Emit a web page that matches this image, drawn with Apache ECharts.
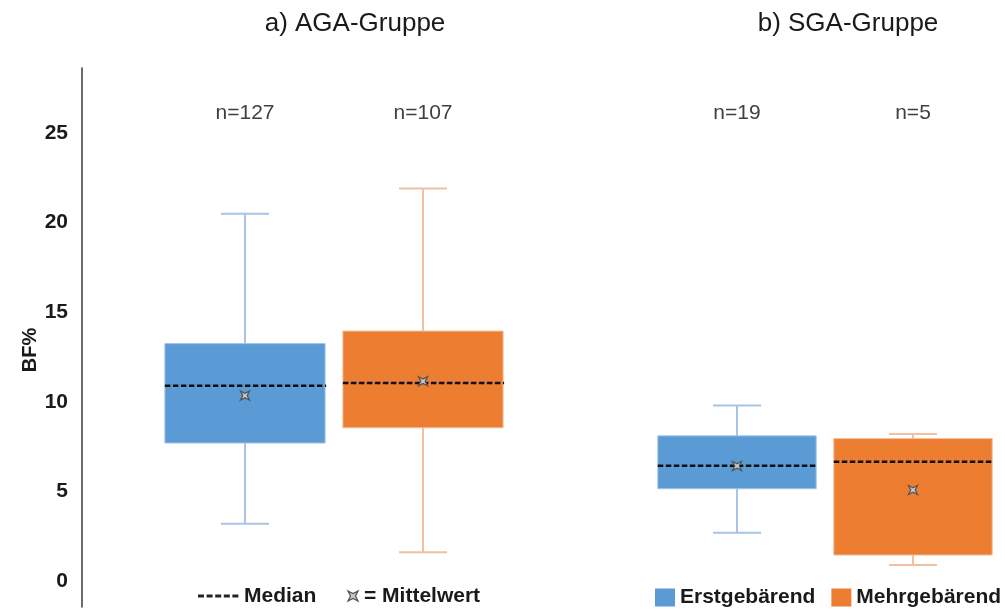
<!DOCTYPE html>
<html>
<head>
<meta charset="utf-8">
<script src="https://cdn.jsdelivr.net/npm/echarts@6/dist/echarts.min.js"></script>
<style>html,body{margin:0;padding:0;background:#fff;}#c{width:1005px;height:609px;}</style>
</head>
<body>
<div id="c"></div>
<script>
// ---- data ----
const groupTitles = ['a) AGA-Gruppe', 'b) SGA-Gruppe'];
const seriesNames = ['Erstgebärend', 'Mehrgebärend'];
const yAxisName = 'BF%';
const yTicks = [0, 5, 10, 15, 20, 25];

const agaMin    = [3.2, 1.6];
const agaQ1     = [7.7, 8.55];
const agaMedian = [10.9, 11.05];
const agaQ3     = [13.25, 13.95];
const agaMax    = [20.5, 21.9];
const agaMean   = [10.35, 11.15];
const agaN      = [127, 107];

const sgaMin    = [2.7, 0.9];
const sgaQ1     = [5.15, 1.45];
const sgaMedian = [6.43, 6.65];
const sgaQ3     = [8.1, 7.95];
const sgaMax    = [9.8, 8.2];
const sgaMean   = [6.42, 5.08];
const sgaN      = [19, 5];

// ---- styles ----
const FONT = '"Liberation Sans", Arial, sans-serif';
const fills = ['#5b9bd5', '#ed7d31'];
const lines = ['#a7c4e4', '#f0c0a0'];
const Y_MIN = -1.45, Y_MAX = 28.63, N_LABEL_Y = 26.1;

// concave-square mean marker, centred on (cx, cy), size s
function meanMarker(cx, cy, s) {
  const h = s / 2, q = s / 4;
  return {
    type: 'polygon',
    shape: { points: [[cx - h, cy - h], [cx, cy - q], [cx + h, cy - h], [cx + q, cy],
                      [cx + h, cy + h], [cx, cy + q], [cx - h, cy + h], [cx - q, cy]] },
    style: { fill: '#c8c8c8', stroke: '#555', lineWidth: 1.3 }
  };
}

function renderBox(params, api) {
  const k = api.value(0);
  const c = v => api.coord([k, v]);
  const band = api.size([1, 0])[0];
  const bw = band * 0.9;
  const capW = 48;
  const pMin = c(api.value(1)), pQ1 = c(api.value(2)), pMed = c(api.value(3));
  const pQ3 = c(api.value(4)), pMax = c(api.value(5)), pMean = c(api.value(6));
  const pN = c(N_LABEL_Y);
  const cx = pMed[0];
  const si = params.seriesIndex % 2;
  const ls = { stroke: lines[si], lineWidth: 2 };
  return {
    type: 'group',
    children: [
      { type: 'line', shape: { x1: cx, y1: pMax[1], x2: cx, y2: pQ3[1] }, style: ls },
      { type: 'line', shape: { x1: cx, y1: pQ1[1], x2: cx, y2: pMin[1] }, style: ls },
      { type: 'line', shape: { x1: cx - capW / 2, y1: pMax[1], x2: cx + capW / 2, y2: pMax[1] }, style: ls },
      { type: 'line', shape: { x1: cx - capW / 2, y1: pMin[1], x2: cx + capW / 2, y2: pMin[1] }, style: ls },
      { type: 'rect', shape: { x: cx - bw / 2, y: pQ3[1], width: bw, height: pQ1[1] - pQ3[1] },
        style: { fill: fills[si], stroke: lines[si], lineWidth: 1 } },
      { type: 'line', shape: { x1: cx - bw / 2, y1: pMed[1], x2: cx + bw / 2 + 1, y2: pMed[1] },
        style: { stroke: '#111', lineWidth: 2.5, lineDash: [5.5, 2.5] } },
      meanMarker(cx, pMean[1], 9),
      { type: 'text', x: cx, y: pN[1],
        style: { text: 'n=' + api.value(7), align: 'center', verticalAlign: 'middle',
                 font: '21px ' + FONT, fill: '#404040' } }
    ]
  };
}

function build(idx, mins, q1s, meds, q3s, maxs, means, ns) {
  return [idx, mins[idx], q1s[idx], meds[idx], q3s[idx], maxs[idx], means[idx], ns[idx]];
}

const series = [];
[0, 1].forEach(s => {
  series.push({
    type: 'custom', name: seriesNames[s], xAxisIndex: 0, yAxisIndex: 0,
    itemStyle: { color: fills[s] }, renderItem: renderBox,
    encode: { x: 0, y: [1, 2, 3, 4, 5] },
    data: [build(s, agaMin, agaQ1, agaMedian, agaQ3, agaMax, agaMean, agaN)]
  });
});
[0, 1].forEach(s => {
  series.push({
    type: 'custom', name: seriesNames[s], xAxisIndex: 1, yAxisIndex: 1,
    itemStyle: { color: fills[s] }, renderItem: renderBox,
    encode: { x: 0, y: [1, 2, 3, 4, 5] },
    data: [build(s, sgaMin, sgaQ1, sgaMedian, sgaQ3, sgaMax, sgaMean, sgaN)]
  });
});

const chart = echarts.init(document.getElementById('c'), null, { renderer: 'canvas' });
const hiddenX = { type: 'category', data: seriesNames, show: false };
chart.setOption({
  backgroundColor: '#fff',
  animation: false,
  grid: [
    { left: 156, width: 356, top: 68, bottom: 2 },
    { left: 649, width: 352, top: 68, bottom: 2 }
  ],
  xAxis: [Object.assign({ gridIndex: 0 }, hiddenX), Object.assign({ gridIndex: 1 }, hiddenX)],
  yAxis: [
    { type: 'value', gridIndex: 0, min: Y_MIN, max: Y_MAX, offset: 74,
      axisLine: { show: true, lineStyle: { color: '#3a3a3a', width: 1.5 } },
      axisTick: { show: false }, splitLine: { show: false },
      axisLabel: { customValues: yTicks, margin: 14, fontFamily: FONT, fontWeight: 'bold', fontSize: 21, color: '#1a1a1a' } },
    { type: 'value', gridIndex: 1, min: Y_MIN, max: Y_MAX, show: false }
  ],
  legend: {
    data: seriesNames, left: 655, top: 587, width: 350, padding: 0, orient: 'horizontal',
    icon: 'rect', itemWidth: 20, itemHeight: 18, itemGap: 16,
    selectedMode: false,
    textStyle: { fontFamily: FONT, fontWeight: 'bold', fontSize: 21, color: '#1a1a1a' }
  },
  graphic: [
    { type: 'text', x: 355, y: 24, style: { text: groupTitles[0], align: 'center', verticalAlign: 'middle', font: '26px ' + FONT, fill: '#1a1a1a' } },
    { type: 'text', x: 848, y: 24, style: { text: groupTitles[1], align: 'center', verticalAlign: 'middle', font: '26px ' + FONT, fill: '#1a1a1a' } },
    { type: 'text', x: 30, y: 350, rotation: Math.PI / 2, style: { text: yAxisName, align: 'center', verticalAlign: 'middle', font: 'bold 20px ' + FONT, fill: '#1a1a1a' } },
    { type: 'line', shape: { x1: 198, y1: 596, x2: 241, y2: 596 }, style: { stroke: '#222', lineWidth: 3, lineDash: [6, 2.6] } },
    { type: 'text', x: 244, y: 596, style: { text: 'Median', verticalAlign: 'middle', font: 'bold 21px ' + FONT, fill: '#1a1a1a' } },
    meanMarker(353, 596, 10),
    { type: 'text', x: 364, y: 596, style: { text: '= Mittelwert', verticalAlign: 'middle', font: 'bold 21px ' + FONT, fill: '#1a1a1a' } }
  ],
  series: series
});
</script>
</body>
</html>
